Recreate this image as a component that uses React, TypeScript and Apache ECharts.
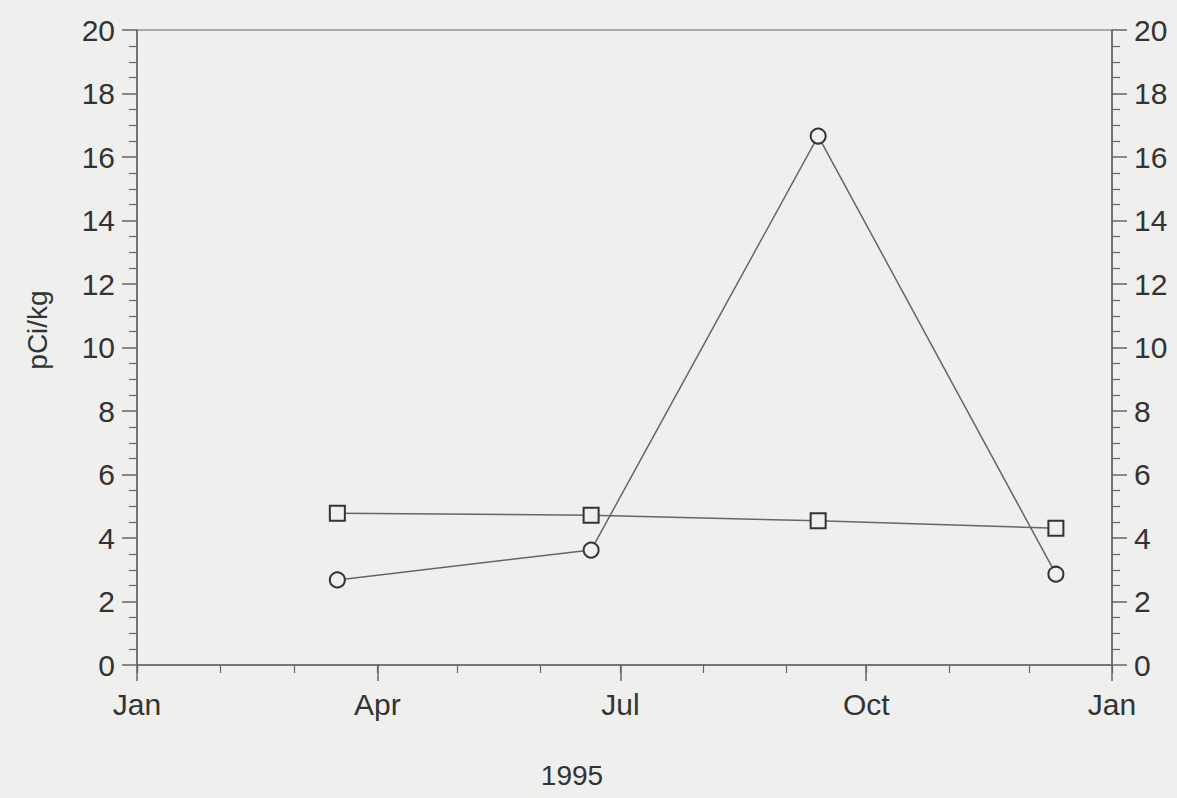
import React, { useEffect, useRef } from "react";
import * as echarts from "echarts";

const sampleDates = ["1995-03-17", "1995-06-20", "1995-09-13", "1995-12-11"];
const squareValues = [4.78, 4.72, 4.54, 4.31];
const circleValues = [2.68, 3.62, 16.66, 2.86];
const monthLabels = ["Jan", "Feb", "Mar", "Apr", "May", "Jun", "Jul", "Aug", "Sep", "Oct", "Nov", "Dec"];
const xMin = "1995-01-01";
const xMax = "1996-01-01";
const yAxisTitle = "pCi/kg";
const xAxisTitle = "1995";

const BG = "#efefed";
const INK = "#333333";
const LINE = "#666666";
const FONT = "'Liberation Sans', Arial, sans-serif";
const DAY = 24 * 3600 * 1000;

export default function App() {
  const ref = useRef<HTMLDivElement>(null);
  useEffect(() => {
    if (!ref.current) return;
    document.body.style.margin = "0";
    document.body.style.background = BG;
    const chart = echarts.init(ref.current, undefined, { renderer: "svg" });
    const yAxisCommon = {
      type: "value",
      min: 0,
      max: 20,
      interval: 2,
      axisLine: { show: true, lineStyle: { color: LINE, width: 1.5 } },
      axisTick: { show: true, length: 15, lineStyle: { color: LINE, width: 1.5 } },
      minorTick: { show: true, splitNumber: 4, length: 8, lineStyle: { color: LINE, width: 1.2 } },
      splitLine: { show: false },
      axisLabel: { color: INK, fontSize: 30, fontFamily: FONT, margin: 22 },
    };
    chart.setOption({
      animation: false,
      backgroundColor: BG,
      grid: {
        left: 137,
        right: 65,
        top: 30,
        bottom: 133,
        show: true,
        borderColor: LINE,
        borderWidth: 1.2,
        backgroundColor: "transparent",
      },
      xAxis: [
        {
          type: "time",
          min: xMin,
          max: xMax,
          minInterval: 91 * DAY,
          maxInterval: 92 * DAY,
          axisLine: { show: true, onZero: false, lineStyle: { color: LINE, width: 1.5 } },
          axisTick: { show: true, length: 16, lineStyle: { color: LINE, width: 1.5 } },
          splitLine: { show: false },
          axisLabel: {
            color: INK,
            fontSize: 30,
            fontFamily: FONT,
            margin: 24,
            showMinLabel: true,
            showMaxLabel: true,
            formatter: (v: number) => monthLabels[new Date(v).getMonth()],
          },
        },
        {
          type: "time",
          min: xMin,
          max: xMax,
          minInterval: 32 * DAY,
          maxInterval: 33 * DAY,
          position: "bottom",
          axisLine: { show: false },
          axisTick: { show: true, length: 8, lineStyle: { color: LINE, width: 1.2 } },
          axisLabel: { show: false },
          splitLine: { show: false },
        },
      ],
      yAxis: [
        { ...yAxisCommon, position: "left" },
        { ...yAxisCommon, position: "right" },
      ],
      graphic: [
        {
          type: "text",
          x: 37,
          y: 330,
          rotation: Math.PI / 2,
          style: { text: yAxisTitle, fill: INK, font: `28px ${FONT}`, align: "center", verticalAlign: "middle" },
        },
        {
          type: "text",
          x: 572,
          y: 775,
          style: { text: xAxisTitle, fill: INK, font: `28px ${FONT}`, align: "center", verticalAlign: "middle" },
        },
      ],
      series: [
        {
          type: "line",
          data: sampleDates.map((d, i) => [d, squareValues[i]]),
          symbol: "rect",
          symbolSize: 15,
          lineStyle: { color: LINE, width: 1.5 },
          itemStyle: { color: BG, borderColor: INK, borderWidth: 2 },
          z: 3,
        },
        {
          type: "line",
          data: sampleDates.map((d, i) => [d, circleValues[i]]),
          symbol: "circle",
          symbolSize: 15,
          lineStyle: { color: LINE, width: 1.5 },
          itemStyle: { color: BG, borderColor: INK, borderWidth: 2 },
          z: 3,
        },
      ],
    });
    return () => chart.dispose();
  }, []);
  return <div ref={ref} style={{ position: "fixed", left: 0, top: 0, width: 1177, height: 798 }} />;
}
